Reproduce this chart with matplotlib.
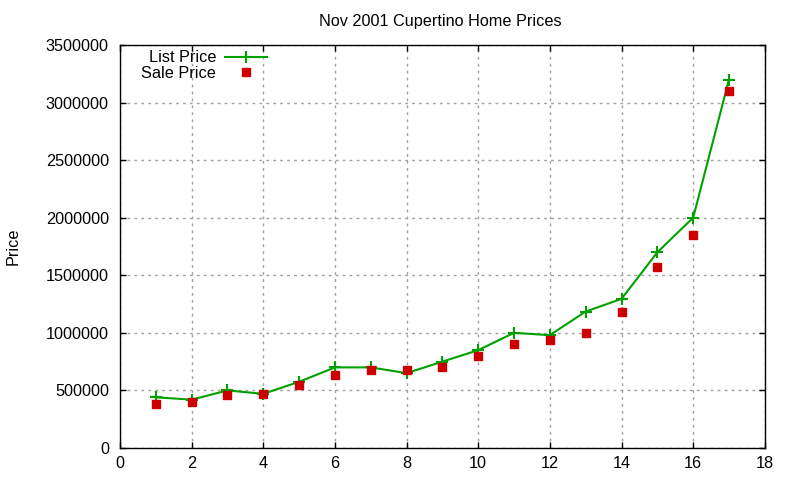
import matplotlib
matplotlib.use("Agg")
import matplotlib.pyplot as plt
from matplotlib.lines import Line2D

plt.rcParams['font.family'] = ['Liberation Sans', 'DejaVu Sans']

# Data
homes = list(range(1, 18))
list_price = [440000, 420000, 500000, 470000, 575000, 700000, 700000, 650000, 750000,
              850000, 1000000, 980000, 1185000, 1295000, 1700000, 2000000, 3200000]
sale_price = [380000, 400000, 460000, 465000, 545000, 630000, 675000, 680000, 700000,
              800000, 900000, 935000, 995000, 1180000, 1575000, 1850000, 3100000]

x_ticks = list(range(0, 19, 2))
y_ticks = list(range(0, 3500001, 500000))

green = '#00a000'
red = '#cc0000'
fs = 11.7

fig = plt.figure(figsize=(8, 4.8), dpi=100)
ax = fig.add_axes([0.15, 0.0667, 0.806, 0.8395])

ax.plot(homes, list_price, color=green, lw=1.5, marker='+', ms=8, mew=1.5, zorder=3)
ax.plot(homes, sale_price, ls='none', marker='s', ms=5.8, color=red, mec=red, zorder=4)

ax.set_xlim(0, 18)
ax.set_ylim(0, 3500000)
ax.set_xticks(x_ticks)
ax.set_yticks(y_ticks)
ax.set_yticklabels([str(v) for v in y_ticks])

ax.grid(True, color='#a0a0a0', ls=(0, (2, 3)), lw=1)
ax.set_axisbelow(True)
ax.tick_params(direction='in', length=4, width=1, top=True, right=True,
               labelsize=fs, colors='black')
ax.tick_params(axis='y', pad=8)
ax.tick_params(axis='x', pad=6)
for s in ax.spines.values():
    s.set_linewidth(1)
    s.set_color('black')

ax.set_ylabel('Price', fontsize=fs, labelpad=18)
fig.text(0.55, 0.955, 'Nov 2001 Cupertino Home Prices', ha='center', va='center', fontsize=fs)

# gnuplot-style key: right-aligned text with sample to its right
ax.text(0.149, 0.9695, 'List Price', transform=ax.transAxes, ha='right', va='center', fontsize=fs)
ax.text(0.149, 0.9305, 'Sale Price', transform=ax.transAxes, ha='right', va='center', fontsize=fs)
ax.add_line(Line2D([0.1628, 0.2279], [0.9715, 0.9715], transform=ax.transAxes, color=green, lw=1.5))
ax.add_line(Line2D([0.1953], [0.9715], transform=ax.transAxes, color=green, marker='+', ms=8, mew=1.5))
ax.add_line(Line2D([0.1953], [0.9325], transform=ax.transAxes, color=red, marker='s', ms=5.8, ls='none'))

fig.savefig('out.png', dpi=100)
